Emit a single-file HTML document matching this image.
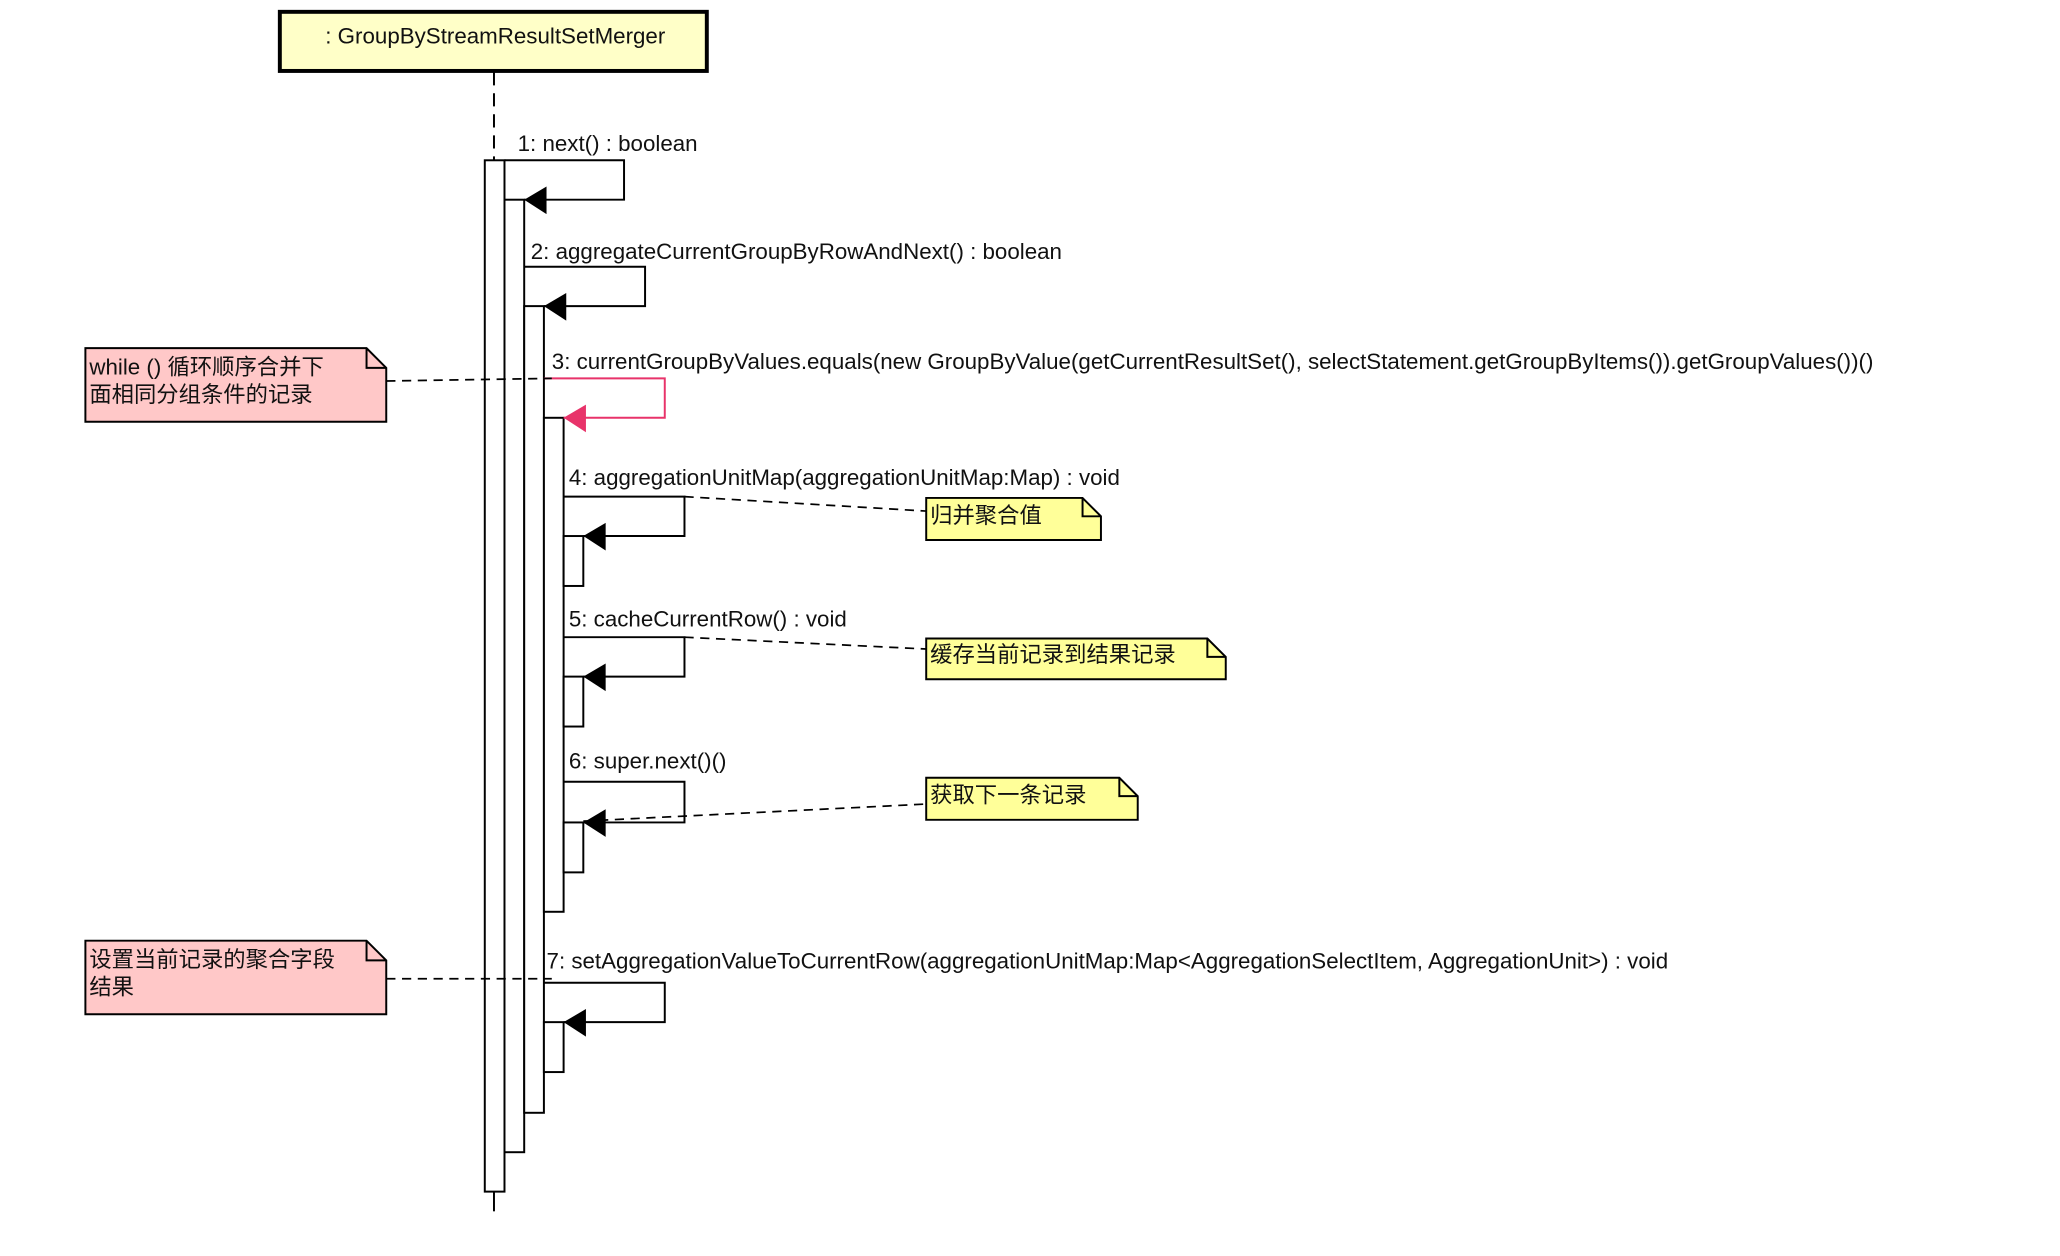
<!DOCTYPE html>
<html><head><meta charset="utf-8">
<style>
html,body{margin:0;padding:0;background:#fff;}
svg{display:block;}
text{font-family:"Liberation Sans","Noto Sans CJK SC",sans-serif;font-size:17px;fill:#111;}
</style></head><body>
<svg width="2060" height="1256" viewBox="0 0 1568 956" preserveAspectRatio="none" xmlns="http://www.w3.org/2000/svg">
<rect width="1568" height="956" fill="#fff"/>
<!-- actor -->
<rect x="213" y="9" width="325" height="45" fill="#ffffc8" stroke="#000" stroke-width="3"/>
<text x="377" y="33" text-anchor="middle">: GroupByStreamResultSetMerger</text>
<line x1="376" y1="55" x2="376" y2="122" stroke="#000" stroke-width="1.5" stroke-dasharray="10,6"/>
<line x1="376" y1="907" x2="376" y2="922" stroke="#000" stroke-width="1.5"/>
<!-- activation bars -->
<g fill="#fff" stroke="#000" stroke-width="1.5">
<rect x="369" y="122" width="15" height="785"/>
<rect x="384" y="152" width="15" height="725"/>
<rect x="399" y="233" width="15" height="614"/>
<rect x="414" y="318" width="15" height="376"/>
<rect x="429" y="408" width="15" height="38"/>
<rect x="429" y="515" width="15" height="38"/>
<rect x="429" y="626" width="15" height="38"/>
<rect x="414" y="778" width="15" height="38"/>
</g>
<!-- messages -->
<g fill="none" stroke="#000" stroke-width="1.5">
<polyline points="384,122 475,122 475,152 399,152"/>
<polyline points="399,203 491,203 491,233 414,233"/>
<polyline points="429,378 521,378 521,408 444,408"/>
<polyline points="429,485 521,485 521,515 444,515"/>
<polyline points="429,595 521,595 521,626 444,626"/>
<polyline points="414,748 506,748 506,778 429,778"/>
</g>
<polyline points="414,288 506,288 506,318 429,318" fill="none" stroke="#e8336a" stroke-width="1.5"/>
<g fill="#000">
<polygon points="399,152 416,142 416,163"/>
<polygon points="414,233 431,223 431,244"/>
<polygon points="444,408 461,398 461,419"/>
<polygon points="444,515 461,505 461,526"/>
<polygon points="444,626 461,616 461,637"/>
<polygon points="429,778 446,768 446,789"/>
</g>
<polygon points="429,318 446,308 446,329" fill="#e8336a"/>
<text x="394" y="115">1: next() : boolean</text>
<text x="404" y="197">2: aggregateCurrentGroupByRowAndNext() : boolean</text>
<text x="420" y="281">3: currentGroupByValues.equals(new GroupByValue(getCurrentResultSet(), selectStatement.getGroupByItems()).getGroupValues())()</text>
<text x="433" y="369">4: aggregationUnitMap(aggregationUnitMap:Map) : void</text>
<text x="433" y="477">5: cacheCurrentRow() : void</text>
<text x="433" y="585">6: super.next()()</text>
<text x="416" y="737">7: setAggregationValueToCurrentRow(aggregationUnitMap:Map&lt;AggregationSelectItem, AggregationUnit&gt;) : void</text>
<!-- dashed note links -->
<g stroke="#000" stroke-width="1.3" stroke-dasharray="7,5" fill="none">
<line x1="294" y1="290" x2="420" y2="288"/>
<line x1="521" y1="378" x2="705" y2="389"/>
<line x1="521" y1="485" x2="705" y2="494"/>
<line x1="444" y1="625" x2="705" y2="612"/>
<line x1="294" y1="745" x2="420" y2="745"/>
</g>
<!-- notes -->
<g stroke="#000" stroke-width="1.5">
<polygon points="65,265 279,265 294,280 294,321 65,321" fill="#ffc8c8"/>
<polyline points="279,265 279,280 294,280" fill="none"/>
<polygon points="65,716 279,716 294,731 294,772 65,772" fill="#ffc8c8"/>
<polyline points="279,716 279,731 294,731" fill="none"/>
<polygon points="705,379 824,379 838,393 838,411 705,411" fill="#ffff99"/>
<polyline points="824,379 824,393 838,393" fill="none"/>
<polygon points="705,486 919,486 933,500 933,517 705,517" fill="#ffff99"/>
<polyline points="919,486 919,500 933,500" fill="none"/>
<polygon points="705,592 852,592 866,606 866,624 705,624" fill="#ffff99"/>
<polyline points="852,592 852,606 866,606" fill="none"/>
</g>
<text x="68" y="285">while () 循环顺序合并下</text>
<text x="68" y="306">面相同分组条件的记录</text>
<text x="68" y="736">设置当前记录的聚合字段</text>
<text x="68" y="757">结果</text>
<text x="708" y="398">归并聚合值</text>
<text x="708" y="504">缓存当前记录到结果记录</text>
<text x="708" y="611">获取下一条记录</text>
</svg>
</body></html>
